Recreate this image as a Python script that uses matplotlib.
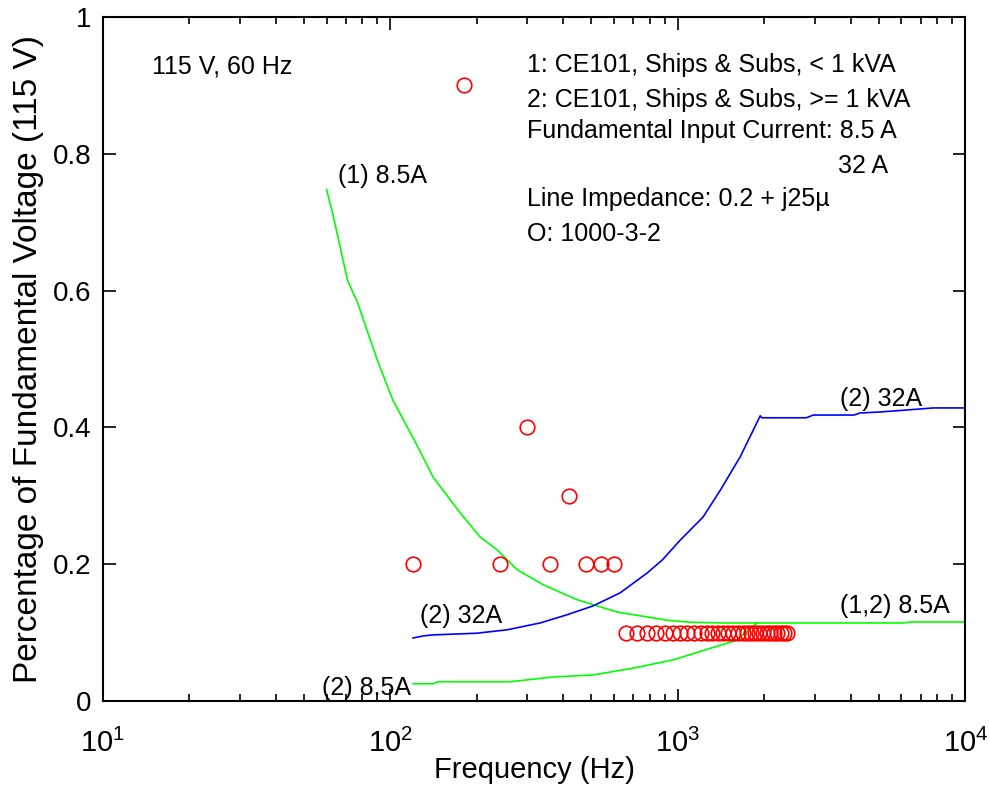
import matplotlib
matplotlib.use('Agg')
import matplotlib.pyplot as plt
from matplotlib.ticker import LogLocator, NullFormatter

plt.rcParams['font.family'] = ['Liberation Sans', 'DejaVu Sans']
plt.rcParams['mathtext.fontset'] = 'custom'
plt.rcParams['mathtext.rm'] = 'Liberation Sans'
plt.rcParams['mathtext.it'] = 'Liberation Sans:italic'

# limit curves (frequency in Hz, fraction of fundamental voltage)
f_1_85 = [60, 63, 71, 77, 90, 102, 122, 141, 175, 205, 235, 276, 340, 446,
          615, 918, 1104, 1439, 2000, 6100, 6500, 10000]
v_1_85 = [0.748, 0.713, 0.615, 0.582, 0.499, 0.440, 0.379, 0.327, 0.275, 0.240,
          0.221, 0.192, 0.170, 0.148, 0.130, 0.118, 0.115, 0.114, 0.114, 0.114,
          0.1155, 0.1155]

f_2_85 = [120, 140, 147, 261, 368, 508, 700, 964, 1300, 1611, 1786, 1900]
v_2_85 = [0.025, 0.025, 0.028, 0.028, 0.035, 0.038, 0.048, 0.060, 0.077,
          0.089, 0.107, 0.114]

f_2_32 = [120, 130, 140, 200, 255, 332, 412, 508, 630, 782, 883, 1019, 1225,
          1405, 1649, 1905, 1936, 1960, 2800, 2960, 4100, 4300, 5060, 6270,
          7740, 10000]
v_2_32 = [0.092, 0.095, 0.0965, 0.099, 0.104, 0.114, 0.126, 0.139, 0.158,
          0.187, 0.206, 0.235, 0.269, 0.308, 0.357, 0.411, 0.417, 0.414, 0.414,
          0.418, 0.418, 0.421, 0.4225, 0.4254, 0.4284, 0.4284]

# IEC 1000-3-2 harmonics (60 Hz base)
f_harm = [120, 180, 240, 300, 360, 420, 480, 540, 600, 660, 720, 780, 840, 900,
          960, 1020, 1080, 1140, 1200, 1260, 1320, 1380, 1440, 1500, 1560, 1620,
          1680, 1740, 1800, 1860, 1920, 1980, 2040, 2100, 2160, 2220, 2280, 2340,
          2400]
v_harm = [0.2, 0.9, 0.2, 0.4, 0.2, 0.3, 0.2, 0.2, 0.2] + [0.1] * 30

fig = plt.figure(figsize=(9.89, 7.92), dpi=100)
ax = fig.add_axes([0.104, 0.115, 0.872, 0.8635])

ax.plot(f_1_85, v_1_85, color='#00ff00', lw=1.2)
ax.plot(f_2_85, v_2_85, color='#00ff00', lw=1.2)
ax.plot(f_2_32, v_2_32, color='#0000ff', lw=1.2)
ax.plot(f_harm, v_harm, 'o', mfc='none', mec='#ff0000', ms=10.5, mew=1.2)

ax.set_xscale('log')
ax.set_xlim(10, 10000)
ax.set_ylim(0, 1)
ax.set_yticks([0, 0.2, 0.4, 0.6, 0.8, 1])
ax.set_yticklabels(['0', '0.2', '0.4', '0.6', '0.8', '1'])
ax.xaxis.set_minor_locator(LogLocator(base=10, subs=range(2, 10)))
ax.xaxis.set_minor_formatter(NullFormatter())
ax.tick_params(which='both', direction='in', top=True, right=True, labelsize=20, width=1.2)
ax.tick_params(which='major', length=9, pad=8)
ax.tick_params(which='minor', length=5)
ax.tick_params(axis='x', which='major', pad=20, labelsize=21)
for s in ax.spines.values():
    s.set_linewidth(1.5)

ax.set_xlabel('Frequency (Hz)', fontsize=21)
ax.xaxis.set_label_coords(0.5, -0.08)
ax.set_ylabel('Percentage of Fundamental Voltage (115 V)', fontsize=24)
ax.yaxis.set_label_coords(-0.068, 0.5)

fs = 18
ax.text(14.8, 0.927, '115 V, 60 Hz', fontsize=fs, va='center')
lines = ['1: CE101, Ships & Subs, < 1 kVA',
         '2: CE101, Ships & Subs, >= 1 kVA',
         'Fundamental Input Current: 8.5 A']
ys = [0.930, 0.879, 0.833]
for t, y in zip(lines, ys):
    ax.text(299, y, t, fontsize=fs, va='center')
ax.text(3610, 0.782, '32 A', fontsize=fs, va='center')
ax.text(299, 0.734, 'Line Impedance: 0.2 + j25\u00b5', fontsize=fs, va='center')
ax.text(299, 0.683, 'O: 1000-3-2', fontsize=fs, va='center')

ax.text(65.8, 0.768, '(1) 8.5A', fontsize=fs, va='center')
ax.text(127, 0.124, '(2) 32A', fontsize=fs, va='center')
ax.text(118, 0.019, '(2) 8.5A', fontsize=fs, va='center', ha='right')
ax.text(3672, 0.139, '(1,2) 8.5A', fontsize=fs, va='center')
ax.text(3672, 0.4415, '(2) 32A', fontsize=fs, va='center')

fig.savefig('out.png', dpi=100)
